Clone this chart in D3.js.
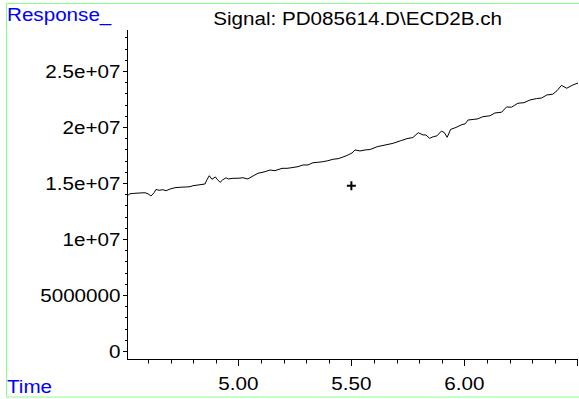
<!DOCTYPE html>
<html>
<head>
<meta charset="utf-8">
<script src="https://cdn.jsdelivr.net/npm/d3@7"></script>
<style>
  html, body { margin: 0; padding: 0; background: #fff; }
  svg { display: block; }
  text { font-family: "Liberation Sans", Arial, sans-serif; }
</style>
</head>
<body>
<div id="chart"></div>
<script>
// retention time (min) and detector response (counts)
var times = [4.507, 4.520, 4.542, 4.565, 4.587, 4.600, 4.613, 4.627, 4.635, 4.649,
  4.666, 4.680, 4.697, 4.719, 4.742, 4.764, 4.786, 4.799, 4.821, 4.852,
  4.862, 4.871, 4.883, 4.898, 4.908, 4.919, 4.930, 4.945, 4.955, 4.976,
  4.998, 5.020, 5.042, 5.065, 5.087, 5.118, 5.140, 5.162, 5.193, 5.215,
  5.237, 5.264, 5.286, 5.308, 5.330, 5.352, 5.374, 5.396, 5.419, 5.441,
  5.459, 5.481, 5.503, 5.516, 5.538, 5.561, 5.583, 5.614, 5.649, 5.684,
  5.719, 5.746, 5.772, 5.796, 5.817, 5.830, 5.846, 5.862, 5.879, 5.898,
  5.911, 5.924, 5.939, 5.963, 5.990, 6.003, 6.017, 6.039, 6.060, 6.082,
  6.113, 6.135, 6.165, 6.187, 6.209, 6.237, 6.264, 6.290, 6.320, 6.342,
  6.365, 6.392, 6.410, 6.430, 6.453, 6.480, 6.503];
var response = [13.84, 14.04, 14.08, 14.11, 14.13, 14.04, 13.84, 14.13, 14.42, 14.35,
  14.40, 14.31, 14.46, 14.58, 14.62, 14.64, 14.67, 14.76, 14.82, 14.91,
  15.33, 15.65, 15.33, 15.54, 15.29, 15.06, 15.27, 15.47, 15.36, 15.42,
  15.42, 15.47, 15.36, 15.63, 15.87, 16.01, 16.16, 16.10, 16.31, 16.31,
  16.37, 16.46, 16.61, 16.61, 16.81, 16.85, 16.90, 16.99, 17.12, 17.17,
  17.29, 17.46, 17.68, 17.95, 17.86, 17.95, 17.99, 18.24, 18.39, 18.54,
  18.78, 18.96, 19.06, 19.49, 19.29, 19.29, 18.99, 19.13, 19.21, 19.63,
  19.51, 19.08, 19.78, 19.96, 20.22, 20.27, 20.63, 20.67, 20.73, 20.92,
  21.00, 21.25, 21.32, 21.79, 21.77, 22.12, 22.17, 22.41, 22.54, 22.59,
  22.86, 22.93, 23.24, 23.72, 23.46, 23.75, 23.93].map(function(v) { return v * 1e6; });

var xMajor = [5.0, 5.5, 6.0, 6.5];
var xLabels = ["5.00", "5.50", "6.00", ""];
var yMajor = [0, 5e6, 1e7, 1.5e7, 2e7, 2.5e7];
var yLabels = ["0", "5000000", "1e+07", "1.5e+07", "2e+07", "2.5e+07"];
var timeRange = [4.507, 6.503];
var cursorTime = 5.5;
var cursorValue = 1.476e7;
var title = "Signal: PD085614.D\\ECD2B.ch";

var width = 579, height = 399;
var left = 127, right = 578, axisY = 359, axisTop = 30;
var fontSize = 18.6, stretch = 1.11;

var svg = d3.select('#chart')
  .append('svg')
  .attr('width', width)
  .attr('height', height);

var x = d3.scaleLinear().domain(timeRange).range([left, right]);
var y = d3.scaleLinear().domain([0, 2.5e7]).range([351, 71]);

// frame
svg.append('rect')
  .attr('x', 6.5).attr('y', 3.5)
  .attr('width', 574).attr('height', 393.5)
  .attr('fill', 'none')
  .attr('stroke', '#8f8')
  .attr('stroke-width', 1);

function label(g, txt, tx, ty, anchor, color) {
  g.append('text')
    .attr('transform', 'translate(' + tx + ',' + ty + ') scale(' + stretch + ',1)')
    .attr('text-anchor', anchor)
    .attr('font-size', fontSize)
    .attr('fill', color || '#000')
    .text(txt);
}

// y axis
var minorY = d3.range(0, 28.5e6, 1e6);
svg.append('line')
  .attr('x1', left + 0.5).attr('x2', left + 0.5)
  .attr('y1', axisTop).attr('y2', axisY)
  .attr('stroke', '#000');
svg.selectAll('.ytick')
  .data(minorY)
  .enter()
  .append('line')
  .attr('x1', function(d) { return left - (d % 5e6 === 0 ? 4 : 2); })
  .attr('x2', left)
  .attr('y1', function(d) { return Math.round(y(d)) + 0.5; })
  .attr('y2', function(d) { return Math.round(y(d)) + 0.5; })
  .attr('stroke', '#000');
yMajor.forEach(function(d, i) {
  label(svg, yLabels[i], 120.5, y(d) + 0.358 * fontSize, 'end');
});

// x axis
var minorX = d3.range(46, 66, 1).map(function(d) { return d / 10; });
svg.append('line')
  .attr('x1', left).attr('x2', right)
  .attr('y1', axisY + 0.5).attr('y2', axisY + 0.5)
  .attr('stroke', '#000');
svg.selectAll('.xtick')
  .data(minorX)
  .enter()
  .append('line')
  .attr('x1', function(d) { return Math.round(x(d)) + 0.5; })
  .attr('x2', function(d) { return Math.round(x(d)) + 0.5; })
  .attr('y1', axisY)
  .attr('y2', function(d) {
    return axisY + (xMajor.some(function(m) { return Math.abs(m - d) < 1e-6; }) ? 7 : 4.5);
  })
  .attr('stroke', '#000');
xMajor.forEach(function(d, i) {
  if (xLabels[i]) label(svg, xLabels[i], x(d), 390, 'middle');
});

// signal trace
var line = d3.line()
  .x(function(d) { return x(d[0]); })
  .y(function(d) { return y(d[1]); });
svg.append('path')
  .datum(d3.zip(times, response))
  .attr('d', line)
  .attr('fill', 'none')
  .attr('stroke', '#000')
  .attr('stroke-width', 1);

// cursor cross
var cx = x(cursorTime), cy = y(cursorValue);
svg.append('path')
  .attr('d', 'M' + (cx - 4.5) + ',' + cy + 'H' + (cx + 4.5) +
    'M' + cx + ',' + (cy - 4.5) + 'V' + (cy + 4.5))
  .attr('stroke', '#000')
  .attr('stroke-width', 2);

label(svg, title, 502, 25, 'end');
label(svg, 'Response_', 7, 20.7, 'start', '#00f');
label(svg, 'Time', 7, 393.3, 'start', '#00f');
</script>
</body>
</html>
